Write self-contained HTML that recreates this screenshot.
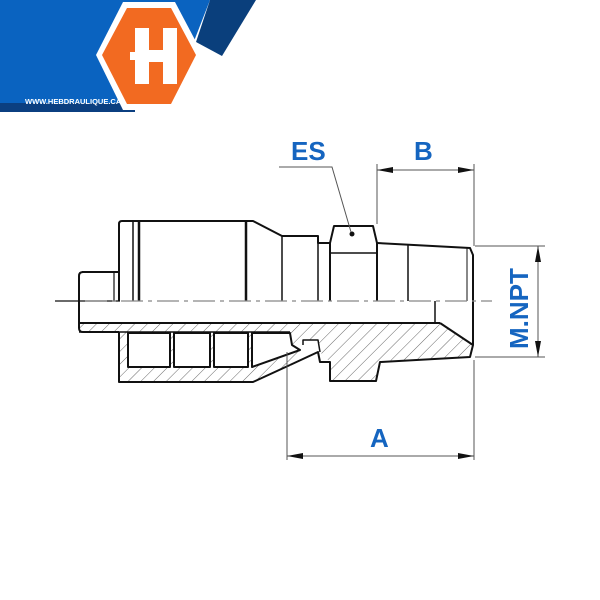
<!DOCTYPE html>
<html><head><meta charset="utf-8"><style>
html,body{margin:0;padding:0;background:#fff;}
svg{display:block;}
</style></head><body>
<svg width="600" height="600" viewBox="0 0 600 600" xmlns="http://www.w3.org/2000/svg">
<defs>
<pattern id="h" patternUnits="userSpaceOnUse" width="9" height="9" patternTransform="rotate(45)">
<line x1="0" y1="0" x2="0" y2="9" stroke="#444" stroke-width="0.8"/>
</pattern>
</defs>
<!-- logo -->
<polygon points="0,0 210,0 170,103 0,103" fill="#0a63c0"/>
<polygon points="210,0 256,0 222,56 196,42" fill="#0a3f7c"/>
<rect x="0" y="103" width="135" height="9" fill="#0b3f80"/>
<polygon points="123,2 175,2 203,55 175,110 123,110 96,55" fill="#fff"/>
<polygon points="127,8 171,8 196,55 171,104 127,104 102,55" fill="#f26a21"/>
<path d="M135,28 h14 v22 h14 v-22 h14 v56 h-14 v-22 h-14 v22 h-14 z M130,52 h7 v8 h-7z M161,52 h7 v8 h-7z" fill="#fff"/>
<text x="25" y="104" font-family="Liberation Sans, sans-serif" font-size="7.5" font-weight="bold" fill="#fff">WWW.HEBDRAULIQUE.CA</text>

<g fill="none" stroke="#111" stroke-width="2" stroke-linejoin="round">
<!-- hatched sections -->
<polygon points="79,323 290,323 290,332 79,332" fill="url(#h)" stroke="none"/>
<polygon points="119,332 290,332 292,345 300,350 290,365 253,382 119,382" fill="url(#h)" stroke="none"/>
<polygon points="290,323 440,323 473,345 470,357 380,362 376,381 330,381 330,362 320,352 318,340 303,340 303,345 292,345 290,332" fill="url(#h)" stroke="none"/>
<rect x="128" y="333" width="42" height="34" fill="#fff" stroke="#111"/>
<rect x="174" y="333" width="36" height="34" fill="#fff" stroke="#111"/>
<rect x="214" y="333" width="34" height="34" fill="#fff" stroke="#111"/>
<path d="M252,333 H290 L292,345 L300,350 L252,367 Z" fill="#fff" stroke="#111"/>
<path d="M119,332 V382 H253 L290,365"/>
<path d="M290,365 L318,352 L320,362 L330,362 V381 H376 L380,362 L470,357 L473,345 L440,323"/>
<path d="M303,345 V340 H318 L320,352" stroke-width="1.5"/>
<line x1="79" y1="323" x2="440" y2="323"/>
<line x1="79" y1="332" x2="290" y2="332" stroke-width="1.5"/>
<!-- nipple -->
<path d="M82,272 H119 M79,276 Q79,272 83,272 M79,276 V328 Q79,332 83,332 H119"/>
<line x1="114" y1="272" x2="114" y2="301" stroke-width="1.2"/>
<!-- socket upper -->
<path d="M122,221 H247 L253,221 L282,236 L318,236 L318,243 L330,243"/>
<path d="M119,224 Q119,221 122,221 M119,224 V301"/>
<line x1="133" y1="221" x2="133" y2="301" stroke-width="1.5"/>
<line x1="139" y1="221" x2="139" y2="301" stroke-width="2.5"/>
<line x1="246" y1="221" x2="246" y2="301" stroke-width="2.5"/>
<line x1="282" y1="236" x2="282" y2="301" stroke-width="1.5"/>
<line x1="318" y1="236" x2="318" y2="301" stroke-width="1.5"/>
<!-- hex -->
<path d="M330,243 L334,226 H373 L377,243 V301 M330,243 V301"/>
<line x1="330" y1="253" x2="377" y2="253" stroke-width="1.5"/>
<!-- thread -->
<path d="M377,243 L470,248 L473,255 V345"/>
<line x1="408" y1="244" x2="408" y2="301" stroke-width="1.5"/>
<line x1="467" y1="248" x2="467" y2="301" stroke-width="1"/>
<line x1="435" y1="301" x2="435" y2="323" stroke-width="1.5"/>
</g>
<circle cx="352" cy="234" r="2.5" fill="#111"/>
<!-- centerline -->
<line x1="55" y1="301" x2="120" y2="301" stroke="#111" stroke-width="1.2"/>
<line x1="85" y1="301" x2="492" y2="301" stroke="#888" stroke-width="1.2" stroke-dasharray="22,5,4,5"/>
<!-- dimensions -->
<g stroke="#555" stroke-width="1" fill="none">
<polyline points="279,167 332,167 351,232"/>
<line x1="377" y1="164" x2="377" y2="224"/>
<line x1="474" y1="164" x2="474" y2="246"/>
<line x1="377" y1="170" x2="474" y2="170"/>
<line x1="475" y1="246" x2="545" y2="246"/>
<line x1="475" y1="357" x2="545" y2="357"/>
<line x1="538" y1="246" x2="538" y2="357"/>
<line x1="287" y1="352" x2="287" y2="460"/>
<line x1="474" y1="360" x2="474" y2="460"/>
<line x1="287" y1="456" x2="474" y2="456"/>
</g>
<g fill="#111">
<polygon points="377,170 393,167 393,173"/>
<polygon points="474,170 458,167 458,173"/>
<polygon points="538,246 535,262 541,262"/>
<polygon points="538,357 535,341 541,341"/>
<polygon points="287,456 303,453 303,459"/>
<polygon points="474,456 458,453 458,459"/>
</g>
<g font-family="Liberation Sans, sans-serif" font-weight="bold" font-size="26" fill="#1565c0">
<text x="291" y="160">ES</text>
<text x="414" y="160">B</text>
<text x="370" y="447">A</text>
<text x="0" y="0" transform="translate(528,349) rotate(-90)">M.NPT</text>
</g>
</svg>
</body></html>
